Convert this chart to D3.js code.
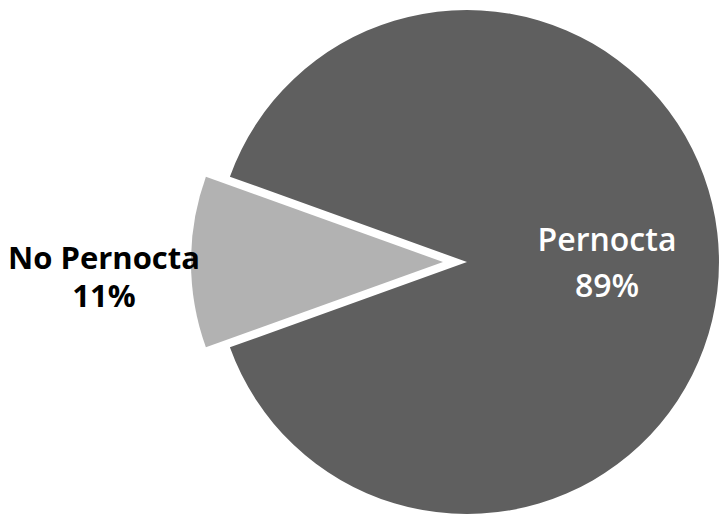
<!DOCTYPE html>
<html>
<head>
<meta charset="utf-8">
<script src="https://cdn.jsdelivr.net/npm/d3@7"></script>
<style>
  html, body { margin: 0; padding: 0; background: #ffffff; }
  svg { display: block; }
</style>
</head>
<body>
<svg id="chart" width="721" height="514"></svg>
<script>
const categories = ["Pernocta", "No Pernocta"];
const values = [89, 11];
const labels = ["89%", "11%"];
const colors = ["#5f5f5f", "#b2b2b2"];
const labelColors = ["#ffffff", "#000000"];

const width = 721, height = 514;
const cx = 467, cy = 262, radius = 252;
const explode = [0, 24];

const svg = d3.select("#chart");
const data = categories.map((c, i) => ({ name: c, value: values[i], label: labels[i] }));

// No Pernocta centred on the left (270deg clockwise from top)
const startDeg = 270 - 360 * (values[0] + values[1] / 2) / d3.sum(values);
const start = startDeg * Math.PI / 180;

const pie = d3.pie().value(d => d.value).sort(null)
  .startAngle(start).endAngle(start + 2 * Math.PI);
const arc = d3.arc().innerRadius(0).outerRadius(radius);
const arcs = pie(data);

const g = svg.append("g").attr("transform", `translate(${cx},${cy})`);

g.selectAll("path.slice").data(arcs).enter().append("path")
  .attr("class", "slice")
  .attr("d", arc)
  .attr("fill", (d, i) => colors[i])
  .attr("transform", (d, i) => {
    const a = (d.startAngle + d.endAngle) / 2;
    return `translate(${Math.sin(a) * explode[i]},${-Math.cos(a) * explode[i]})`;
  });

// labels
const labelPos = [
  { x: 607, y1: 251, y2: 297, weight: 600, size: 32 },
  { x: 104, y1: 269, y2: 307, weight: "bold", size: 31 }
];
arcs.forEach((d, i) => {
  const p = labelPos[i];
  const t = svg.append("text")
    .attr("text-anchor", "middle")
    .attr("font-family", "'Open Sans', 'DejaVu Sans', sans-serif")
    .attr("font-size", p.size)
    .attr("font-weight", p.weight)
    .attr("fill", labelColors[i]);
  t.append("tspan").attr("x", p.x).attr("y", p.y1).text(d.data.name);
  t.append("tspan").attr("x", p.x).attr("y", p.y2).text(d.data.label);
});
</script>
</body>
</html>
